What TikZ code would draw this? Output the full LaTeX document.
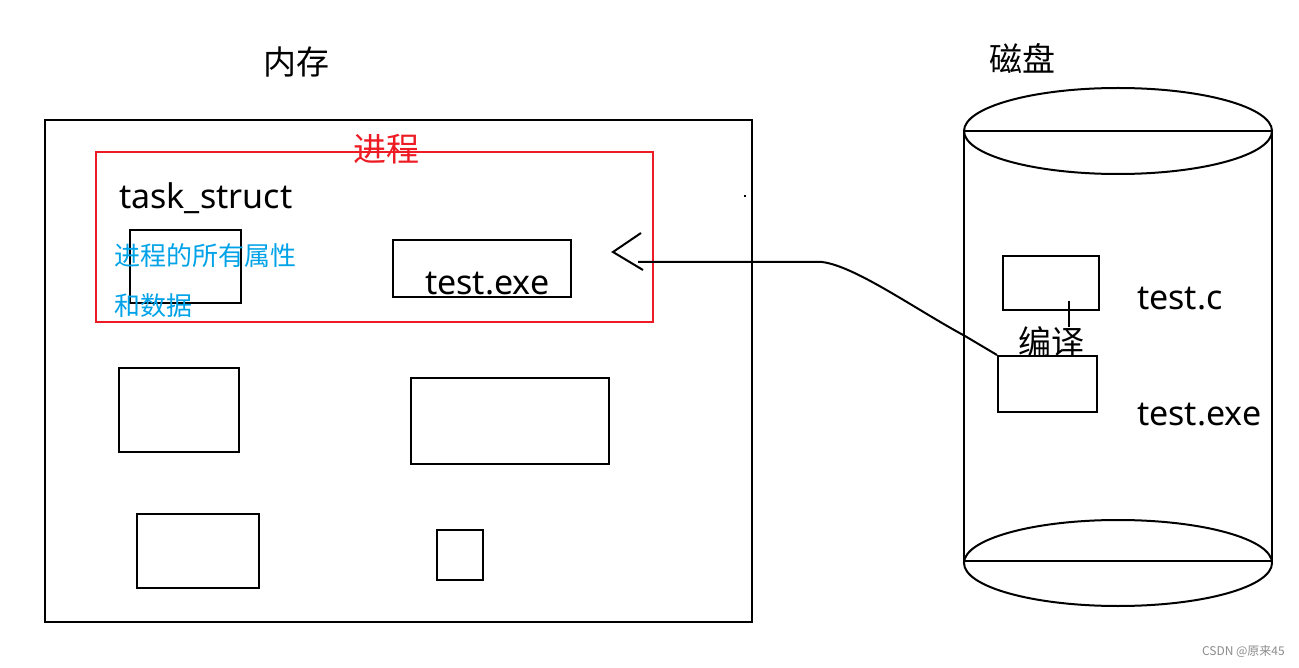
\documentclass[tikz,border=0pt]{standalone}
\usepackage{fontspec}
\newfontfamily\cjk{Noto Sans CJK SC}
\newfontfamily\lat{Noto Sans}
\definecolor{pred}{HTML}{ED1C24}
\definecolor{pblue}{HTML}{00A2E8}
\tikzset{
  box/.style={draw=black, line width=2pt},
  zh/.style={font=\cjk\fontsize{33}{36}\selectfont, inner sep=0pt, anchor=center},
  zhblue/.style={font=\cjk\fontsize{26}{30}\selectfont, inner sep=0pt, anchor=center, text=pblue},
  en/.style={font=\lat\fontsize{34}{38}\selectfont, inner sep=0pt, anchor=base west},
  wire/.style={draw=black, line width=2pt},
}
\begin{document}
\begin{tikzpicture}[x=1pt,y=-1pt]
\useasboundingbox (0,0) rectangle (1299,668);
\fill[white] (0,0) rectangle (1299,668);
% titles
\node[zh] (mem) at (296,62) {内存};
\node[zh] (disk) at (1022,59) {磁盘};
% memory
\draw[box] (45,120) rectangle (752,622);
\node[draw=pred, line width=2pt, minimum width=557pt, minimum height=170pt, inner sep=0pt, anchor=north west] (proc) at (95,151) {};
\node[zh, text=pred] (proclbl) at (386,149) {进程};
\node[en] (ts) at (119,209) {task\_struct};
\node[box, minimum width=111pt, minimum height=73pt, inner sep=0pt, anchor=north west] (tsbox) at (129,229) {};
\node[zhblue] (attr1) at (205,256) {进程的所有属性};
\node[zhblue] (attr2) at (153,306) {和数据};
\node[box, minimum width=178pt, minimum height=57pt, inner sep=0pt, anchor=north west] (membox) at (392,239) {};
\node[en] (memexe) at (425,295) {test.exe};
\node[box, minimum width=120pt, minimum height=84pt, inner sep=0pt, anchor=north west] (m1) at (118,367) {};
\node[box, minimum width=198pt, minimum height=86pt, inner sep=0pt, anchor=north west] (m2) at (410,377) {};
\node[box, minimum width=122pt, minimum height=74pt, inner sep=0pt, anchor=north west] (m3) at (136,513) {};
\node[box, minimum width=46pt, minimum height=50pt, inner sep=0pt, anchor=north west] (m4) at (436,529) {};
\fill[black] (744,195) rectangle (746,197);
% disk cylinder
\draw[wire] (1118,131) ellipse [x radius=154, y radius=43];
\draw[wire] (1118,563) ellipse [x radius=154, y radius=43];
\draw[wire] (964,131) -- (1272,131);
\draw[wire] (964,561) -- (1272,561);
\draw[wire] (964,131) -- (964,563);
\draw[wire] (1272,131) -- (1272,563);
\node[box, minimum width=96pt, minimum height=54pt, inner sep=0pt, anchor=north west] (cbox) at (1002,255) {};
\node[box, minimum width=99pt, minimum height=56pt, inner sep=0pt, anchor=north west] (ebox) at (997,355) {};
\node[en] (ctext) at (1137,310) {test.c};
\node[en] (etext) at (1137,425) {test.exe};
\coordinate (cdown) at (1069,327);
\draw[wire] (1069,301) -- (cdown);
\node[zh] (compile) at (1051,342) {编译};
% arrow from disk to process
\coordinate (bend) at (965,336);
\coordinate (flat) at (822,262);
\coordinate (shaftend) at (638,262);
\draw[wire] (ebox.north west) -- (bend) .. controls (915,309) and (855,266) .. (flat) -- (shaftend);
\coordinate (tip) at (613,252);
\draw[wire] (641,233) -- (tip) -- (643,270);
% watermark
\node[font=\cjk\fontsize{12}{14}\selectfont, text=black!45, inner sep=0pt, anchor=east] (wm) at (1285,651) {CSDN @原来45};
\end{tikzpicture}
\end{document}
